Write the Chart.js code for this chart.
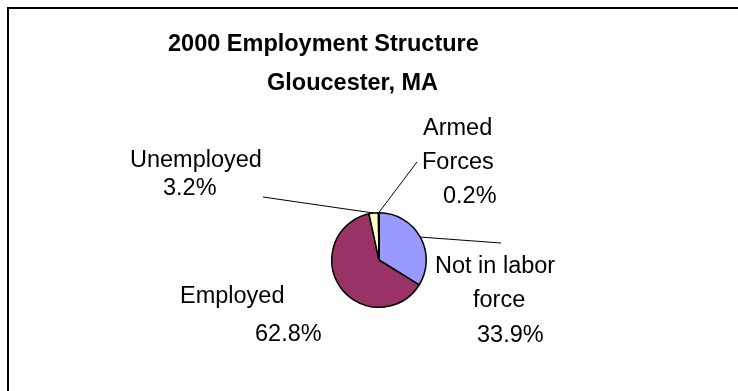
<!DOCTYPE html>
<html>
<head>
<meta charset="utf-8">
<script src="https://cdn.jsdelivr.net/npm/chart.js@4.4.1/dist/chart.umd.min.js"></script>
<style>
  html, body { margin: 0; padding: 0; background: #fff; }
  canvas { display: block; }
</style>
</head>
<body>
<canvas id="pie" width="738" height="391"></canvas>
<script>
/* 2000 employment structure, Gloucester MA */

const titleLines = ["2000 Employment Structure", "Gloucester, MA"];
const categories = ["Not in labor\nforce", "Employed", "Unemployed", "Armed\nForces"];
const shares = [33.9, 62.8, 3.2, 0.2];
const sliceColors = ["#9999FF", "#993366", "#FFFFCC", "#CCFFFF"];

// where each label line sits (left x, baseline y) and where its leader starts
const labelSpots = [
    { lines: [[435, 273], [473, 307], [477, 342]], leader: [501, 243] },
    { lines: [[180, 303], [255, 341]], leader: null },
    { lines: [[130, 167], [163, 195]], leader: [263, 197] },
    { lines: [[423, 135], [422, 169], [443, 203]], leader: [417, 162] }
];

const FONT = "'Liberation Sans', Arial, sans-serif";

const decorations = {
    id: "decorations",
    afterDraw(chart) {
        const c = chart.ctx;
        c.save();

        // frame (runs off the right and bottom edges)
        c.strokeStyle = "#000";
        c.lineWidth = 2;
        c.strokeRect(8, 8, 800, 500);

        // title
        c.fillStyle = "#000";
        c.textBaseline = "alphabetic";
        c.textAlign = "left";
        c.font = "bold 23.5px " + FONT;
        c.fillText(titleLines[0], 168, 51);
        c.fillText(titleLines[1], 267, 90);

        // data labels + leader lines
        const arcs = chart.getDatasetMeta(0).data;
        c.font = "23.5px " + FONT;
        arcs.forEach((arc, i) => {
            const spot = labelSpots[i];
            const text = categories[i].split("\n").concat([shares[i].toFixed(1) + "%"]);
            text.forEach((t, k) => c.fillText(t, spot.lines[k][0], spot.lines[k][1]));

            if (spot.leader) {
                const p = arc.getProps(["x", "y", "startAngle", "endAngle", "outerRadius"], true);
                const mid = (p.startAngle + p.endAngle) / 2;
                c.beginPath();
                c.lineWidth = 1;
                c.moveTo(spot.leader[0], spot.leader[1]);
                c.lineTo(p.x + Math.cos(mid) * p.outerRadius, p.y + Math.sin(mid) * p.outerRadius);
                c.stroke();
            }
        });

        c.restore();
    }
};

new Chart(document.getElementById("pie"), {
    type: "pie",
    data: {
        labels: categories,
        datasets: [{
            data: shares,
            backgroundColor: sliceColors,
            borderColor: "#000",
            borderWidth: 1.5
        }]
    },
    options: {
        responsive: false,
        animation: false,
        layout: { padding: { left: 331, right: 311, top: 212, bottom: 83 } },
        plugins: {
            legend: { display: false },
            tooltip: { enabled: false },
            title: { display: false }
        }
    },
    plugins: [decorations]
});
</script>
</body>
</html>
